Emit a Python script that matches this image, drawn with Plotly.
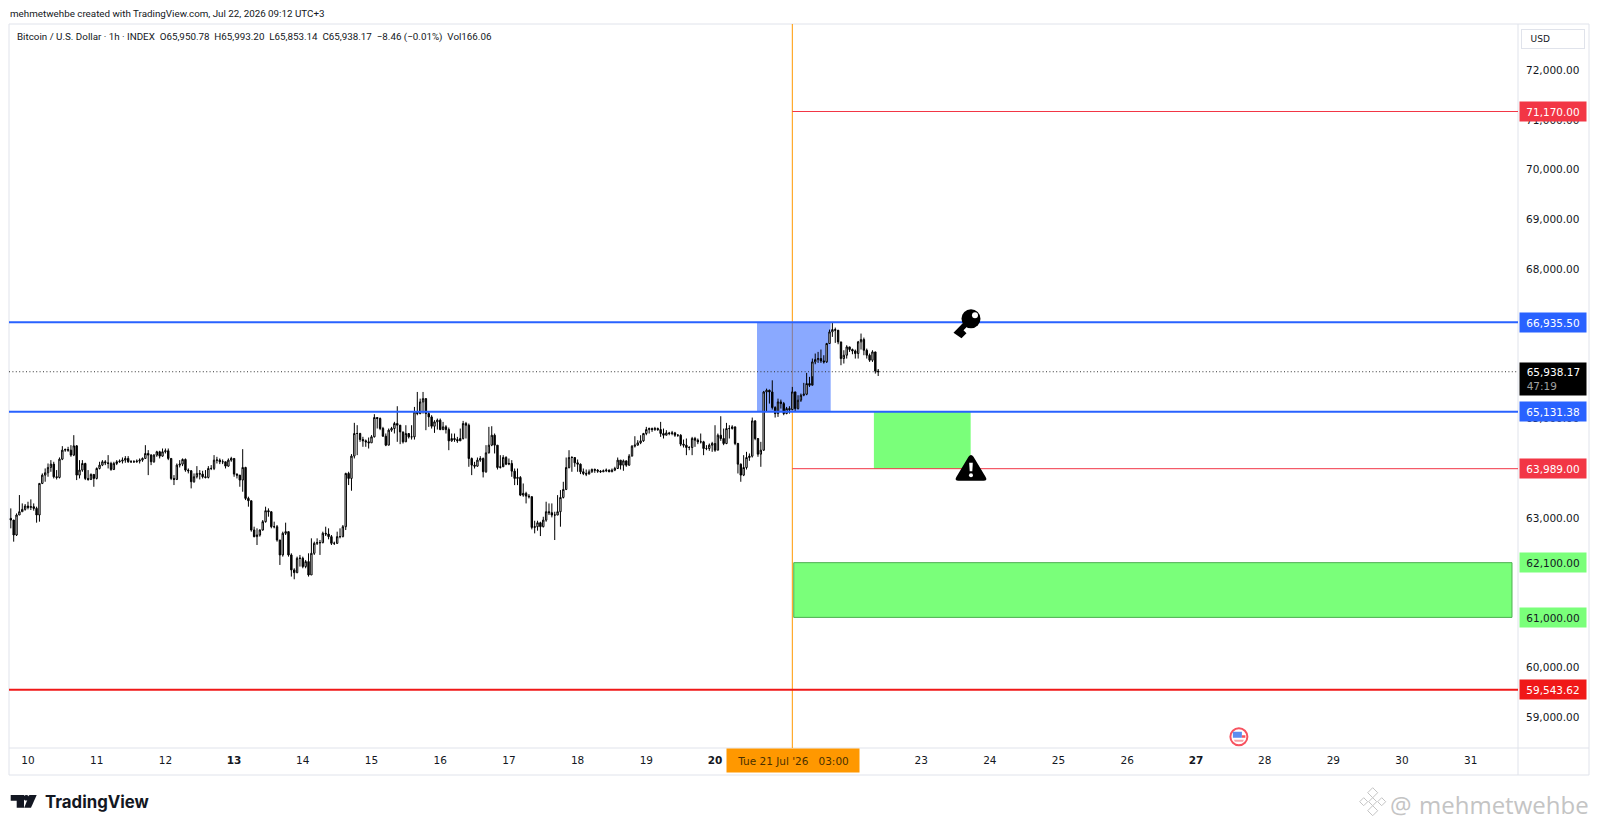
import pandas as pd
import plotly.graph_objects as go

# BTCUSD 1h candles, oldest first, last bar is Jul 22 09:00
last_bar = "2026-07-22 09:00"
first_open = 62990

closes = [
    62957,62656,63058,63124,63171,63238,63211,63225,63191,63058,
    63693,63860,63907,64014,64081,63827,63813,64181,64362,64375,
    64362,64262,64449,63860,63961,64094,63793,63773,63874,63793,
    63994,64061,64128,64108,64094,63974,64094,64128,64141,64161,
    64195,64128,64128,64128,64141,64161,64195,64295,64262,64128,
    64262,64329,64242,64329,64349,64195,63793,63773,64061,64081,
    64175,63961,63947,63727,63827,63894,63880,63827,63813,63994,
    63994,64161,64161,64128,64128,64041,64161,64195,63880,63860,
    63760,64014,63392,63345,62756,62623,62656,62756,62924,63145,
    63124,62823,62823,62556,62255,62690,62723,62255,61954,61900,
    62188,62188,62021,62121,61853,62288,62489,62502,62502,62690,
    62676,62623,62489,62489,62623,62623,62823,63894,63793,64242,
    64697,64697,64576,64549,64529,64509,64630,65018,64998,64797,
    64643,64462,64764,64797,64897,64864,
    64729,64529,64696,64629,64629,65131,65097,65331,65398,65097,
    65030,64843,64930,64964,64776,64830,64776,64549,64596,64575,
    64549,64596,64897,64863,64194,64060,64040,64161,64194,63927,
    64308,64462,64662,64462,64013,64027,64214,64080,64094,63940,
    63793,63813,63458,63492,63438,63425,62809,62823,62903,62823,
    62956,63124,63104,63057,63057,63124,63411,63572,64013,64214,
    64214,64107,64080,63927,63893,63880,63927,63973,63960,63940,
    63927,63947,63960,63927,63960,63993,64161,64060,64147,64060,
    64241,64442,64462,64509,64549,64696,64776,64796,64776,64796,
    64776,64696,64662,64709,64696,64709,64662,64662,64482,64462,
    64415,64415,64596,64562,64529,64529,64395,64395,64462,64495,
    64361,64662,64596,64495,64796,64796,64830,64495,64080,63860,
    64013,64214,64241,64950,64596,64281,64361,65532,65566,65532,
    65218,65097,65331,65298,65097,65198,65178,
    65533,65198,65366,65466,65486,65701,65667,66136,66183,66203,
    66156,66136,66505,66739,66786,66773,66538,66203,66270,66438,
    66384,66357,66304,66538,66585,66370,66270,66170,66337,65950.78,65938.17,
]
highs = [
    63191,62957,63090,63459,63291,63278,63325,63372,63291,63225,
    63693,63894,63994,64094,64161,64128,63961,64215,64442,64395,
    64429,64462,64663,64462,64161,64161,64108,63961,63894,63880,
    64014,64128,64161,64161,64262,64128,64128,64161,64175,64215,
    64242,64242,64161,64161,64175,64195,64215,64462,64362,64282,
    64282,64349,64349,64395,64395,64395,64195,63860,64094,64161,
    64195,64195,63994,63961,63894,64041,63961,63947,63961,64041,
    64061,64262,64228,64195,64175,64128,64195,64228,64195,63894,
    63860,64382,64027,63426,63345,62823,62790,62770,62957,63225,
    63191,63090,62924,62857,62556,62723,62904,62723,62288,61987,
    62221,62255,62221,62154,62288,62589,62522,62589,62556,62723,
    62823,62790,62656,62522,62723,62790,62857,63907,63927,64282,
    64911,64864,64710,64630,64576,64616,64663,65085,65018,65018,
    64830,64697,64797,64830,64931,65245,
    64830,64729,64863,64696,64863,65231,65532,65398,65532,65398,
    65131,65064,64964,64997,64997,64930,64863,64816,64696,64696,
    64629,64796,64950,64930,64897,64214,64127,64214,64241,64214,
    64462,64830,64843,64696,64462,64261,64261,64241,64194,64161,
    63993,63993,63840,63692,63525,63478,63438,62943,62943,62923,
    63023,63325,63291,63291,63124,63458,63559,63726,64214,64361,
    64241,64214,64174,64094,63993,63973,63973,63993,63993,63980,
    63960,63973,63993,63973,63993,64027,64214,64161,64174,64147,
    64281,64462,64642,64562,64662,64709,64830,64816,64816,64830,
    64816,64930,64796,64763,64729,64749,64729,64683,64683,64575,
    64596,64442,64629,64629,64596,64696,64549,64462,64495,64529,
    64863,64696,65044,64796,64910,64863,64863,64830,64509,64094,
    64261,64328,64295,65017,64964,64596,64529,65552,65599,65579,
    65766,65245,65398,65378,65331,65231,65245,
    65633,65533,65466,65500,65714,65915,65835,66203,66304,66337,
    66384,66270,66518,66786,66933,66826,66739,66538,66370,66471,
    66438,66404,66384,66558,66706,66625,66404,66304,66370,66337,65993.20,
]
lows = [
    62790,62522,62636,63058,63124,63145,63171,63158,63145,62904,
    62924,63680,63727,63827,63927,63793,63773,63793,64161,64329,
    64329,64228,64242,63760,63793,63927,63760,63747,63760,63626,
    63773,63974,64041,64061,63994,63947,63961,64061,64108,64094,
    64108,64108,64108,64108,64108,64094,64128,64195,63860,64061,
    64108,64228,64195,64228,64295,64161,63760,63660,63760,64014,
    64041,63927,63894,63593,63706,63793,63773,63793,63793,63793,
    63961,63961,64094,64081,64081,63994,64027,64128,63827,63793,
    63626,63526,63358,63225,62723,62609,62455,62623,62743,62904,
    63024,62790,62790,62522,62054,62221,62656,62221,61820,61766,
    61887,62021,61987,61987,61820,61853,62255,62455,62255,62489,
    62636,62569,62455,62455,62475,62589,62609,62756,63660,63546,
    64195,64262,64529,64429,64429,64395,64509,64616,64797,64764,
    64630,64442,64462,64730,64697,64529,
    64482,64495,64529,64596,64575,64575,65064,65084,65097,64763,
    64830,64796,64709,64776,64763,64763,64696,64361,64529,64529,
    64509,64562,64575,64596,64027,63860,63993,64027,64127,63813,
    63906,64295,64442,64295,63973,63993,64094,64060,64060,63826,
    63659,63659,63438,63425,63291,63391,62769,62689,62743,62635,
    62809,62923,63057,63010,62555,63057,62823,63391,63559,63993,
    63927,64027,63927,63880,63860,63840,63880,63906,63906,63906,
    63906,63920,63920,63920,63920,63940,63987,63973,63947,64027,
    64047,64241,64415,64455,64482,64529,64662,64696,64729,64749,
    64749,64629,64596,64662,64662,64662,64629,64629,64442,64415,
    64261,64361,64261,64428,64482,64495,64261,64361,64348,64328,
    64328,64361,64549,64462,64482,64596,64776,64462,63893,63726,
    63840,63973,64147,64214,64562,64228,64027,64348,65131,65298,
    65178,65017,65030,65198,65064,65084,65097,
    65165,65151,65178,65332,65446,65466,65633,65848,66089,66116,
    66116,66103,66116,66505,66639,66518,66491,66069,66103,66203,
    66337,66290,66203,66203,66384,66270,66203,66136,66136,65901,65853.14,
]
opens = [first_open] + closes[:-1]
dates = pd.date_range(end=last_bar, periods=len(closes), freq="h")

# 21 and 22 sit under the crosshair date label, the round prices here are the ones not under a tag
day_ticks = [d for d in pd.date_range("2026-07-10", "2026-07-31", freq="D") if d.day not in (21, 22)]
day_labels = [f"<b>{d.day}</b>" if d.day in (13, 20, 27) else str(d.day) for d in day_ticks]
price_ticks = [59000, 60000, 63000, 65000, 68000, 69000, 70000, 71000, 72000]

blue_top = 66935.50
blue_bottom = 65131.38
red_top = 71170.00
red_mid = 63989.00
red_bottom = 59543.62
zone_top = 62100.00
zone_bottom = 61000.00
last_price = 65938.17
cross_time = "2026-07-21 03:00"

FONT = "DejaVu Sans"
HEAD_FONT = "Roboto"
GRID = "#e0e3eb"
W, H = 1598, 828
L, R, T, B = 9, 1518, 24, 748


def fx(px):
    return (px - L) / (R - L)


def fy(py):
    return (B - py) / (B - T)


def frame_line(x0, y0, x1, y1):
    return dict(type="line", xref="paper", yref="paper", x0=fx(x0), x1=fx(x1), y0=fy(y0), y1=fy(y1),
                line=dict(color=GRID, width=1), layer="below")


def level(price, color, width, start=None, dash="solid"):
    if start is None:
        return dict(type="line", xref="paper", yref="y", x0=0, x1=1, y0=price, y1=price,
                    line=dict(color=color, width=width, dash=dash))
    return dict(type="line", xref="x", yref="y", x0=start, x1="2026-07-31 16:30", y0=price, y1=price,
                line=dict(color=color, width=width, dash=dash))


def pixel_path(path, xanchor, yanchor, color, xref="x", yref="y", line=None):
    return dict(type="path", path=path, xref=xref, yref=yref, xsizemode="pixel", ysizemode="pixel",
                xanchor=xanchor, yanchor=yanchor, fillcolor=color,
                line=dict(color=line or color, width=1 if line else 0))


def pixel_circle(cx, cy, r, xanchor, yanchor, fill, xref="x", yref="y", line=None, lw=0):
    return dict(type="circle", xref=xref, yref=yref, xsizemode="pixel", ysizemode="pixel",
                xanchor=xanchor, yanchor=yanchor, x0=cx - r, x1=cx + r, y0=cy - r, y1=cy + r,
                fillcolor=fill, line=dict(color=line or fill, width=lw))


shapes = [
    frame_line(9, 24, 1589, 24),
    frame_line(9, 24, 9, 775),
    frame_line(1518, 24, 1518, 775),
    frame_line(1589, 24, 1589, 775),
    frame_line(9, 748, 1589, 748),
    frame_line(9, 775, 1589, 775),
    dict(type="line", xref="x", yref="paper", x0=cross_time, x1=cross_time, y0=0, y1=1,
         line=dict(color="#ff9800", width=1), layer="below"),
    dict(type="rect", xref="x", yref="y", x0="2026-07-20 14:40", x1="2026-07-21 16:24",
         y0=blue_bottom, y1=blue_top, fillcolor="rgba(41,98,255,0.55)", line=dict(width=0), layer="below"),
    dict(type="rect", xref="x", yref="y", x0="2026-07-22 07:30", x1="2026-07-23 17:18",
         y0=red_mid, y1=blue_bottom, fillcolor="#7aff7a", line=dict(width=0), layer="below"),
    dict(type="rect", xref="x", yref="y", x0="2026-07-21 03:30", x1="2026-07-31 14:24",
         y0=zone_bottom, y1=zone_top, fillcolor="#7aff7a", line=dict(color="#4caf50", width=1), layer="below"),
    level(last_price, "#333333", 1, dash="1px,2.4px"),
    level(blue_top, "#2962ff", 2),
    level(blue_bottom, "#2962ff", 2),
    level(red_top, "#f23645", 1, start=cross_time),
    level(red_mid, "#f23645", 1, start=cross_time),
    level(red_bottom, "#f01818", 2),
]

# key drawing
key_t, key_p = "2026-07-23 17:25", 67005
shapes += [
    pixel_path("M3,-1 L-7.5,-11.5 L-4.5,-14.5 L-9.5,-19.5 L-17.5,-14 L-1,3 Z", key_t, key_p, "#000000"),
    pixel_circle(0, 0, 9.5, key_t, key_p, "#000000"),
    pixel_circle(4, 3.3, 3, key_t, key_p, "#ffffff"),
]
# warning drawing
warn_t, warn_p = "2026-07-23 17:25", red_mid
shapes += [
    pixel_path("M-12.5,-12 Q-17,-12 -14.5,-8 L-2.5,12 Q0,15.5 2.5,12 L14.5,-8 Q17,-12 12.5,-12 Z",
               warn_t, warn_p, "#000000"),
    pixel_path("M-1.8,6 L1.8,6 L1.3,-2.5 L-1.3,-2.5 Z", warn_t, warn_p, "#ffffff"),
    pixel_circle(0, -6.5, 2, warn_t, warn_p, "#ffffff"),
]
# economic event flag
flag_t, flag_p = "2026-07-27 15:00", 58600
shapes += [
    pixel_circle(0, 0, 8.5, flag_t, flag_p, "#ffffff", line="#f7525f", lw=2),
    pixel_path("M-6,5 L3,5 L3,-1 L-6,-1 Z", flag_t, flag_p, "#5b8def"),
    pixel_path("M3,1.5 L6.5,1.5 L6.5,-1 L3,-1 Z", flag_t, flag_p, "#f7525f"),
    pixel_path("M-5,-3 L5,-3 L4,-5 L-4,-5 Z", flag_t, flag_p, "#f7a0a6"),
]
# TradingView logo
logo_x, logo_y = fx(10.7), fy(807.7)
shapes += [
    pixel_path("M0,12.7 L13.3,12.7 L13.3,0 L6,0 L6,7 L0,7 Z", logo_x, logo_y, "#131722", "paper", "paper"),
    pixel_circle(15.6, 10, 2.8, logo_x, logo_y, "#131722", "paper", "paper"),
    pixel_path("M18.6,12.7 L26,12.7 L20.3,0 L13.5,0 Z", logo_x, logo_y, "#131722", "paper", "paper"),
]
# watermark icon
mark_x, mark_y = fx(1372.7), fy(801.7)
for dx, dy, s in [(0, 9, 5), (0, -9, 5), (-9, 0, 4), (9, 0, 4), (0, 0, 4)]:
    shapes.append(pixel_path(f"M{dx},{dy + s} L{dx + s},{dy} L{dx},{dy - s} L{dx - s},{dy} Z",
                             mark_x, mark_y, "#ffffff", "paper", "paper", line="#c4c4c4"))


def note(px, py, text, size=10, color="#131722", anchor="left", family=FONT, **kw):
    return dict(xref="paper", yref="paper", x=fx(px), y=fy(py), text=text, showarrow=False,
                xanchor=anchor, yanchor="middle", font=dict(family=family, size=size, color=color), **kw)


def price_tag(price, label, color, text_color="#ffffff"):
    return dict(xref="paper", yref="y", x=1, xshift=1, y=price, text=label, showarrow=False, xanchor="left",
                yanchor="middle", width=66, height=19, borderpad=0, bgcolor=color,
                font=dict(family=FONT, size=10.5, color=text_color))


annotations = [
    note(7.5, 13, "mehmetwehbe created with TradingView.com, Jul 22, 2026 09:12 UTC+3", size=9.8, family=HEAD_FONT),
    note(14.5, 37, "Bitcoin / U.S. Dollar · 1h · INDEX&nbsp;&nbsp;O65,950.78&nbsp;&nbsp;H65,993.20&nbsp;&nbsp;"
                   "L65,853.14&nbsp;&nbsp;C65,938.17&nbsp;&nbsp;−8.46 (−0.01%)&nbsp;&nbsp;Vol166.06",
         size=9.8, family=HEAD_FONT),
    note(1553, 39, "&nbsp;&nbsp;&nbsp;USD", size=9, anchor="center", width=62, height=18, bgcolor="#ffffff",
         bordercolor=GRID, borderwidth=1, borderpad=0, align="left"),
    price_tag(red_top, "71,170.00", "#f23645"),
    price_tag(blue_top, "66,935.50", "#2962ff"),
    price_tag(blue_bottom, "65,131.38", "#2962ff"),
    price_tag(red_mid, "63,989.00", "#f23645"),
    price_tag(zone_top, "62,100.00", "#7aff7a", "#131722"),
    price_tag(zone_bottom, "61,000.00", "#7aff7a", "#131722"),
    price_tag(red_bottom, "59,543.62", "#f01818"),
    dict(xref="paper", yref="y", x=1, xshift=1, y=last_price, yshift=-7, showarrow=False, xanchor="left",
         yanchor="middle", width=66, height=32, borderpad=0, bgcolor="#000000", align="left",
         text="&nbsp;&nbsp;65,938.17<br>&nbsp;&nbsp;<span style='color:#a0a0a0'>47:19</span>",
         font=dict(family=FONT, size=10.5, color="#ffffff")),
    note(792.7, 760, "Tue 21 Jul '26&nbsp;&nbsp;&nbsp;03:00", size=10.5, anchor="center", color="#4a3000",
         width=132, height=23, borderpad=0, bgcolor="#ff9800"),
    note(43, 802, "<b>TradingView</b>", size=16.8, family="Inter"),
    note(1414, 804, "@", size=24, color="#c4c4c4", anchor="right", family="Open Sans"),
    note(1591, 805, "mehmetwehbe", size=24, color="#c4c4c4", anchor="right", family="Open Sans"),
]

fig = go.Figure(go.Candlestick(
    x=dates, open=opens, high=highs, low=lows, close=closes,
    increasing=dict(line=dict(color="#000000", width=1), fillcolor="#ffffff"),
    decreasing=dict(line=dict(color="#000000", width=1), fillcolor="#000000"),
    hoverinfo="skip",
))
fig.update_layout(
    width=W, height=H,
    margin=dict(l=L, r=W - R, t=T, b=H - B, pad=0),
    paper_bgcolor="#ffffff", plot_bgcolor="#ffffff",
    showlegend=False,
    shapes=shapes,
    annotations=annotations,
    xaxis=dict(type="date", range=["2026-07-09 17:22", "2026-07-31 16:30"], rangeslider=dict(visible=False),
               tickvals=day_ticks, ticktext=day_labels, tickangle=0, showgrid=False, zeroline=False,
               ticklen=0, ticklabelstandoff=4, tickfont=dict(family=FONT, size=10.5, color="#131722")),
    yaxis=dict(side="right", range=[58374, 72929], tickvals=price_ticks, tickformat=",.2f",
               showgrid=False, zeroline=False, ticklen=0, ticklabelstandoff=7,
               tickfont=dict(family=FONT, size=10.5, color="#131722")),
)
fig.write_html("out.html", config=dict(displayModeBar=False),
               post_script="document.body.style.margin='0';")
